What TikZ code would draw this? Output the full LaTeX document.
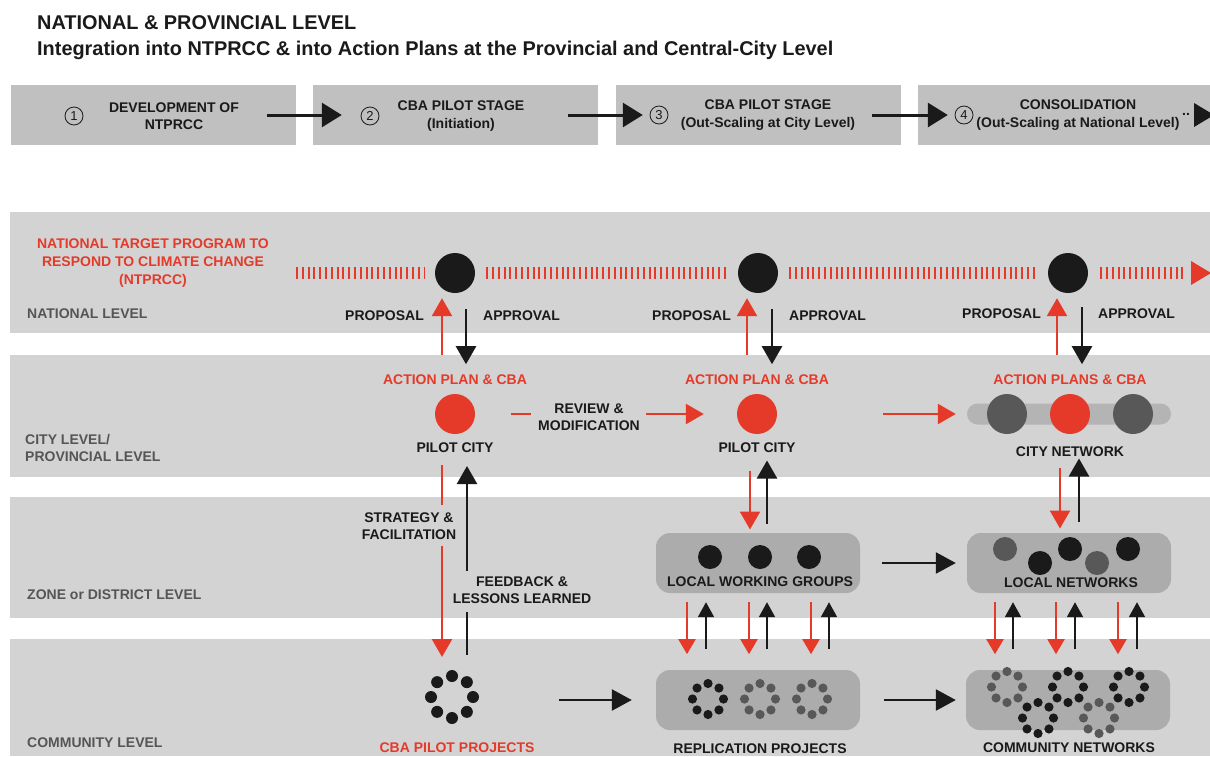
\documentclass[tikz,border=0pt]{standalone}
\usepackage{fontspec}
\setmainfont{Liberation Sans}
\usetikzlibrary{arrows.meta,positioning,calc}
\definecolor{cbared}{RGB}{229,58,42}
\definecolor{bandgray}{RGB}{211,211,211}
\definecolor{hdrgray}{RGB}{192,192,192}
\definecolor{boxgray}{RGB}{171,172,171}
\definecolor{bargray}{RGB}{180,180,180}
\definecolor{dotgray}{RGB}{88,88,88}
\definecolor{lvlgray}{RGB}{85,85,85}
\definecolor{ink}{RGB}{26,26,26}
\newcommand{\dotring}[4]{\foreach \a in {0,45,...,315}{\fill[#4] (#1) ++(\a:#2) circle[radius=#3];}}

\begin{document}
\begin{tikzpicture}[x=1pt,y=-1pt,
    every node/.style={inner sep=0pt,text=ink,font=\bfseries\fontsize{14}{17.5}\selectfont},
    band/.style={fill=bandgray},
    hdrbox/.style={fill=hdrgray,minimum width=285pt,minimum height=60pt},
    numcirc/.style={circle,draw=ink,line width=0.8pt,minimum size=18pt,font=\mdseries\fontsize{13}{13}\selectfont},
    lvl/.style={anchor=west,text=lvlgray,align=left},
    redtxt/.style={text=cbared,align=center},
    twoline/.style={align=center},
    bigdot/.style={circle,minimum size=40pt},
    smalldot/.style={circle,minimum size=24pt},
    groupbox/.style={rounded corners=14pt,fill=boxgray,minimum width=204pt,minimum height=60pt},
    track/.style={draw=cbared,line width=12pt,dash pattern=on 2pt off 3.8pt},
    hdrarr/.style={draw=ink,line width=3pt,-{Triangle[length=20pt,width=24pt]}},
    midarr/.style={draw=ink,line width=2.5pt,-{Triangle[length=20pt,width=21pt]}},
    blkarr/.style={draw=ink,line width=2.5pt,-{Triangle[length=18pt,width=20pt]}},
    redarr/.style={draw=cbared,line width=2.5pt,-{Triangle[length=18pt,width=20pt]}},
    blkline/.style={draw=ink,line width=2.5pt},
    redline/.style={draw=cbared,line width=2.5pt},
    smallblk/.style={draw=ink,line width=2pt,-{Triangle[length=15pt,width=16pt]}},
    smallred/.style={draw=cbared,line width=2pt,-{Triangle[length=15pt,width=17pt]}}]
\fill[white] (0,0) rectangle (1210,756);
\useasboundingbox (0,0) rectangle (1210,756);

\node[anchor=base west,font=\bfseries\fontsize{19.9}{24}\selectfont] (ttl) at (37,29.5) {NATIONAL \& PROVINCIAL LEVEL};
\node[anchor=base west,font=\bfseries\fontsize{19.9}{24}\selectfont] (sub) at (37,55) {Integration into NTPRCC \& into Action Plans at the Provincial and Central-City Level};

\node[hdrbox] (s1) at (153.5,115) {};
\node[hdrbox] (s2) at (455.5,115) {};
\node[hdrbox] (s3) at (758.5,115) {};
\node[hdrbox,minimum width=292pt] (s4) at (1064,115) {};
\node[numcirc] (n1) at (74,116) {1};
\node[numcirc] (n2) at (370,116) {2};
\node[numcirc] (n3) at (659,115) {3};
\node[numcirc] (n4) at (964,115) {4};
\node[twoline] (t1) at (174,116) {DEVELOPMENT OF\\NTPRCC};
\node[twoline] (t2) at (461,116) {CBA PILOT STAGE\\(Initiation)};
\node[twoline] (t3) at (768,115) {CBA PILOT STAGE\\(Out-Scaling at City Level)};
\node[twoline] (t4) at (1078,115) {CONSOLIDATION\\(Out-Scaling at National Level)};
\node (dd) at (1186,114) {..};
\draw[hdrarr] ([xshift=-29pt]s1.east) -- ([xshift=29pt]s2.west);
\draw[hdrarr] ([xshift=-30pt]s2.east) -- ([xshift=27pt]s3.west);
\draw[hdrarr] ([xshift=-29pt]s3.east) -- ([xshift=30pt]s4.west);
\fill[ink] (1194,103) -- (1214,115) -- (1194,127) -- cycle;

\fill[band] (10,212) rectangle (1210,333);
\fill[band] (10,355) rectangle (1210,477);
\fill[band] (10,497) rectangle (1210,618);
\fill[band] (10,639) rectangle (1210,756);

% national level
\node[redtxt,font=\bfseries\fontsize{14}{18}\selectfont] (ntp) at (153,263) {NATIONAL TARGET PROGRAM TO\\RESPOND TO CLIMATE CHANGE\\(NTPRCC)};
\node[lvl] (lnat) at (27,314) {NATIONAL LEVEL};
\node[bigdot,fill=ink] (nat1) at (455,273) {};
\node[bigdot,fill=ink] (nat2) at (758,273) {};
\node[bigdot,fill=ink] (nat3) at (1068,273) {};
\coordinate (trkstart) at (296,273);
\coordinate (trkend) at (1186,273);
\draw[track] (trkstart) -- ([xshift=-10pt]nat1.west);
\draw[track] ([xshift=11pt]nat1.east) -- ([xshift=-12pt]nat2.west);
\draw[track] ([xshift=11pt]nat2.east) -- ([xshift=-10pt]nat3.west);
\draw[track] ([xshift=12pt]nat3.east) -- (trkend);
\fill[cbared] (1191,261) -- (1211,273) -- (1191,285) -- cycle;

\draw[redarr] ($(nat1.south)+(-13,62)$) -- ($(nat1.south)+(-13,5)$);
\draw[blkarr] ($(nat1.south)+(11,16)$) -- ($(nat1.south)+(11,71)$);
\node[anchor=east] (prop1) at ($(nat1.south)+(-31,22)$) {PROPOSAL};
\node[anchor=west] (appr1) at ($(nat1.south)+(28,22)$) {APPROVAL};
\draw[redarr] ($(nat2.south)+(-11,62)$) -- ($(nat2.south)+(-11,5)$);
\draw[blkarr] ($(nat2.south)+(14,16)$) -- ($(nat2.south)+(14,71)$);
\node[anchor=east] (prop2) at ($(nat2.south)+(-27,22)$) {PROPOSAL};
\node[anchor=west] (appr2) at ($(nat2.south)+(31,22)$) {APPROVAL};
\draw[redarr] ($(nat3.south)+(-11,62)$) -- ($(nat3.south)+(-11,5)$);
\draw[blkarr] ($(nat3.south)+(14,14)$) -- ($(nat3.south)+(14,71)$);
\node[anchor=east] (prop3) at ($(nat3.south)+(-27,20)$) {PROPOSAL};
\node[anchor=west] (appr3) at ($(nat3.south)+(30,20)$) {APPROVAL};

% city level
\node[lvl] (lcity) at (25,448) {CITY LEVEL/\\PROVINCIAL LEVEL};
\node[bigdot,fill=cbared] (cty1) at (455,414) {};
\node[redtxt,above=9pt of cty1] (ap1) {ACTION PLAN \& CBA};
\node[below=8pt of cty1] (pc1) {PILOT CITY};
\node[bigdot,fill=cbared] (cty2) at (757,414) {};
\node[redtxt,above=9pt of cty2] (ap2) {ACTION PLAN \& CBA};
\node[below=8pt of cty2] (pc2) {PILOT CITY};
\node[twoline] (rev) at (589,417) {REVIEW \&\\MODIFICATION};
\draw[redline] ($(cty1.east)+(36,0)$) -- ($(cty1.east)+(56,0)$);
\draw[redarr] ($(cty2.west)+(-91,0)$) -- ($(cty2.west)+(-33,0)$);
\node[rounded corners=10.5pt,fill=bargray,minimum width=204pt,minimum height=21pt] (cbar) at (1069,414) {};
\node[bigdot,fill=dotgray] (cn1) at (1007,414) {};
\node[bigdot,fill=cbared] (cn2) at (1070,414) {};
\node[bigdot,fill=dotgray] (cn3) at (1133,414) {};
\node[redtxt,above=9pt of cn2] (ap3) {ACTION PLANS \& CBA};
\node[below=12pt of cn2] (cnet) {CITY NETWORK};
\draw[redarr] ([xshift=106pt]cty2.east) -- ([xshift=-11pt]cbar.west);

% pilot column down to the community
\node[twoline] (strat) at (409,526) {STRATEGY \&\\FACILITATION};
\node[twoline] (feed) at (522,590) {FEEDBACK \&\\LESSONS LEARNED};
\coordinate (sf1) at (442,465);
\coordinate (sf2) at (442,505);
\coordinate (sf3) at (442,546);
\coordinate (sf4) at (442,657);
\coordinate (fb1) at (467,655);
\coordinate (fb2) at (467,612);
\coordinate (fb3) at (467,571);
\coordinate (fb4) at (467,466);
\draw[redline] (sf1) -- (sf2);
\draw[redarr] (sf3) -- (sf4);
\draw[blkline] (fb1) -- (fb2);
\draw[blkarr] (fb3) -- (fb4);
\draw[redarr] ($(pc2.south)+(-7,18)$) -- ($(pc2.south)+(-7,77)$);
\draw[blkarr] ($(pc2.south)+(10,71)$) -- ($(pc2.south)+(10,8)$);
\draw[redarr] ($(cnet.south)+(-10,11)$) -- ($(cnet.south)+(-10,72)$);
\draw[blkarr] ($(cnet.south)+(9,65)$) -- ($(cnet.south)+(9,2)$);

% zone level
\node[lvl] (lzone) at (27,595) {ZONE or DISTRICT LEVEL};
\node[groupbox] (lwg) at (758,563) {};
\node[smalldot,fill=ink] (g1) at (710,557) {};
\node[smalldot,fill=ink] (g2) at (760,557) {};
\node[smalldot,fill=ink] (g3) at (809,557) {};
\node (lwgt) at (760,582) {LOCAL WORKING GROUPS};
\node[groupbox] (lnb) at (1069,563) {};
\node[smalldot,fill=dotgray] (k1) at (1005,549) {};
\node[smalldot,fill=ink] (k2) at (1040,563) {};
\node[smalldot,fill=ink] (k3) at (1070,549) {};
\node[smalldot,fill=dotgray] (k4) at (1097,563) {};
\node[smalldot,fill=ink] (k5) at (1128,549) {};
\node (lnbt) at (1071,583) {LOCAL NETWORKS};
\draw[midarr] ([xshift=22pt]lwg.east) -- ([xshift=-11pt]lnb.west);
\foreach \dx in {-71,-9,53} \draw[smallred] ($(lwg.south)+(\dx,9)$) -- ($(lwg.south)+(\dx,61)$);
\foreach \dx in {-52,9,71} \draw[smallblk] ($(lwg.south)+(\dx,56)$) -- ($(lwg.south)+(\dx,9)$);
\foreach \dx in {-74,-13,49} \draw[smallred] ($(lnb.south)+(\dx,9)$) -- ($(lnb.south)+(\dx,61)$);
\foreach \dx in {-56,6,68} \draw[smallblk] ($(lnb.south)+(\dx,56)$) -- ($(lnb.south)+(\dx,9)$);

% community level
\node[lvl] (lcom) at (27,743) {COMMUNITY LEVEL};
\node[circle,minimum size=53pt] (pring) at (452,700) {};
\dotring{452,697}{21pt}{6pt}{ink}
\node[redtxt] (cpp) at (457,748) {CBA PILOT PROJECTS};
\node[groupbox] (rep) at (758,700) {};
\dotring{708,699}{15.5pt}{4.6pt}{ink}
\dotring{760,699}{15.5pt}{4.6pt}{dotgray}
\dotring{812,699}{15.5pt}{4.6pt}{dotgray}
\node (rept) at (760,749) {REPLICATION PROJECTS};
\node[groupbox] (cnw) at (1068,700) {};
\dotring{1007,687}{15.5pt}{4.6pt}{dotgray}
\dotring{1038,718}{15.5pt}{4.6pt}{ink}
\dotring{1068,687}{15.5pt}{4.6pt}{ink}
\dotring{1099,718}{15.5pt}{4.6pt}{dotgray}
\dotring{1129,687}{15.5pt}{4.6pt}{ink}
\node (cnwt) at (1069,748) {COMMUNITY NETWORKS};
\draw[midarr] ([xshift=80pt]pring.east) -- ([xshift=-24pt]rep.west);
\draw[midarr] ([xshift=24pt]rep.east) -- ([xshift=-10pt]cnw.west);
\end{tikzpicture}
\end{document}
